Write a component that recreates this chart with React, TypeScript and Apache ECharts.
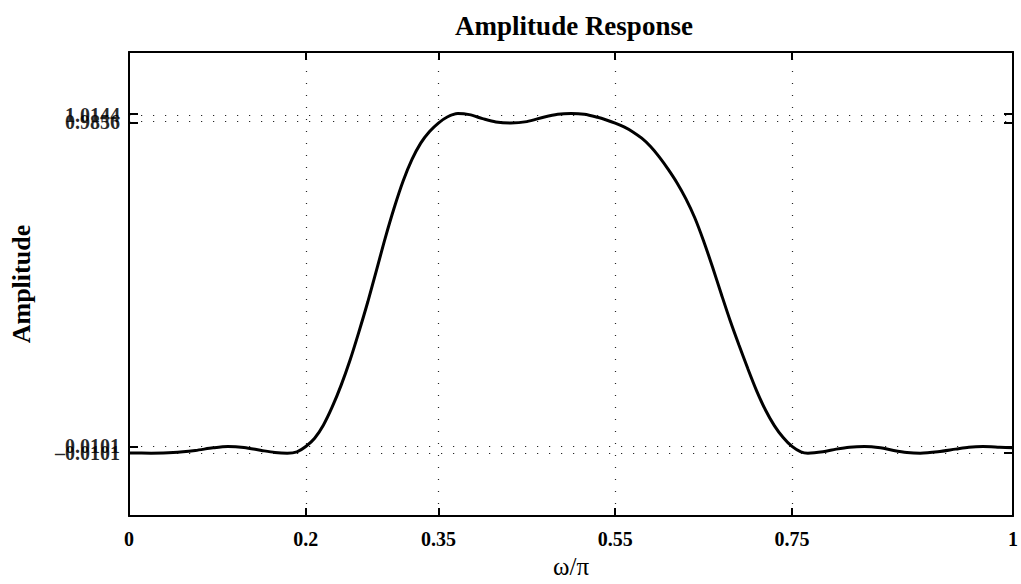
import React, { useEffect, useRef } from "react";
import * as echarts from "echarts";

// Frequency (ω/π) and amplitude
const omega = [
  0.0, 0.025, 0.05, 0.075, 0.095, 0.112, 0.13, 0.15, 0.165, 0.179, 0.19, 0.2,
  0.21, 0.22, 0.23, 0.24, 0.25, 0.26, 0.27, 0.28, 0.29, 0.3, 0.31, 0.32, 0.33,
  0.34, 0.35, 0.36, 0.372, 0.385, 0.4, 0.415, 0.432, 0.45, 0.47, 0.485, 0.5,
  0.515, 0.53, 0.54, 0.55, 0.56, 0.57, 0.58, 0.59, 0.6, 0.61, 0.62, 0.63, 0.64,
  0.65, 0.66, 0.67, 0.68, 0.69, 0.7, 0.71, 0.72, 0.73, 0.74, 0.75, 0.76, 0.768,
  0.785, 0.8, 0.815, 0.832, 0.85, 0.865, 0.88, 0.895, 0.915, 0.935, 0.95,
  0.966, 0.985, 1.0,
];
const amplitude = [
  -0.0095, -0.0101, -0.0085, -0.002, 0.006, 0.0101, 0.007, -0.002, -0.008,
  -0.0101, -0.006, 0.0101,
  0.035, 0.075, 0.13, 0.195, 0.27, 0.355, 0.445, 0.542, 0.64, 0.73, 0.81,
  0.875, 0.925, 0.96, 0.9856, 1.004, 1.0144, 1.011, 0.999, 0.989, 0.9856,
  0.99, 1.004, 1.012, 1.0144, 1.012, 1.003, 0.995, 0.9856, 0.974, 0.959,
  0.94, 0.915, 0.883, 0.846, 0.805, 0.757, 0.7, 0.63, 0.552, 0.47, 0.39,
  0.316, 0.245, 0.178, 0.12, 0.073, 0.037, 0.0101, -0.006, -0.0101, -0.006,
  0.002, 0.008, 0.0101, 0.006, -0.002, -0.008, -0.0101, -0.006, 0.002, 0.008,
  0.0101, 0.008, 0.006,
];

const xTicks = [0, 0.2, 0.35, 0.55, 0.75, 1];
const yTicks = [-0.0101, 0.0101, 0.9856, 1.0144];
const xGridLines = [0.2, 0.35, 0.55, 0.75];
const yGridLines = [-0.0101, 0.0101, 0.9856, 1.0144];
const xRange = [0, 1];
const yRange = [-0.2, 1.2];

const titleText = "Amplitude Response";
const xName = "ω/π";
const yName = "Amplitude";

const FONT = '"Liberation Serif", "Times New Roman", Times, serif';

function fmtY(v: number): string {
  const s = Math.abs(v).toFixed(4);
  return v < 0 ? "\u2013" + s : s;
}
function fmtX(v: number): string {
  return String(Number(v.toFixed(4)));
}

export default function App() {
  const ref = useRef<HTMLDivElement>(null);
  useEffect(() => {
    document.body.style.margin = "0";
    if (!ref.current) return;
    const chart = echarts.init(ref.current, undefined, { renderer: "svg" });
    const axisLine = { show: true, onZero: false, lineStyle: { color: "#000", width: 2 } };
    const tickStyle = { color: "#000", width: 2 };
    const dotted = { color: "#000", width: 1.2, type: [1.2, 10.8] as any, opacity: 0.85 };
    const labelFont = {
      fontSize: 20,
      fontWeight: "bold",
      fontFamily: FONT,
      color: "#000",
    };
    const option: any = {
      animation: false,
      backgroundColor: "#fff",
      title: {
        text: titleText,
        left: 574,
        top: 12,
        padding: 0,
        textAlign: "center",
        textStyle: { fontSize: 27, fontWeight: "bold", fontFamily: FONT, color: "#000" },
      },
      grid: { left: 128, right: 1, top: 52, bottom: 66, containLabel: false },
      xAxis: [
        {
          type: "value",
          min: xRange[0],
          max: xRange[1],
          position: "bottom",
          name: xName,
          nameLocation: "middle",
          nameGap: 37,
          nameTextStyle: { fontSize: 25, fontFamily: FONT, color: "#000", fontWeight: "normal" },
          axisLine,
          axisTick: { show: true, inside: true, length: 8, lineStyle: tickStyle, customValues: xTicks },
          axisLabel: {
            show: true,
            margin: 13,
            customValues: xTicks,
            formatter: (v: number) => fmtX(v),
            ...labelFont,
            showMinLabel: true,
            showMaxLabel: true,
          },
          splitLine: { show: false },
        },
        {
          type: "value",
          min: xRange[0],
          max: xRange[1],
          position: "top",
          axisLine,
          axisTick: { show: true, inside: true, length: 8, lineStyle: tickStyle, customValues: xTicks },
          axisLabel: { show: false },
          splitLine: { show: false },
        },
      ],
      yAxis: [
        {
          type: "value",
          min: yRange[0],
          max: yRange[1],
          position: "left",
          name: yName,
          nameLocation: "middle",
          nameGap: 95,
          nameRotate: 90,
          nameTextStyle: { fontSize: 26, fontFamily: FONT, color: "#000", fontWeight: "bold" },
          axisLine,
          axisTick: { show: true, inside: true, length: 9, lineStyle: tickStyle, customValues: yTicks },
          axisLabel: { show: false },
          splitLine: { show: false },
        },
        {
          type: "value",
          min: yRange[0],
          max: yRange[1],
          position: "right",
          axisLine,
          axisTick: { show: true, inside: true, length: 9, lineStyle: tickStyle, customValues: yTicks },
          axisLabel: { show: false },
          splitLine: { show: false },
        },
      ],
      series: [
        {
          type: "line",
          name: "grid",
          data: [],
          silent: true,
          z: 1,
          markLine: {
            silent: true,
            symbol: ["none", "none"],
            lineStyle: dotted,
            emphasis: { disabled: true },
            data: [
              ...xGridLines.map((v) => ({ xAxis: v, label: { show: false } })),
              ...yGridLines.map((v) => ({
                yAxis: v,
                label: {
                  show: true,
                  position: "start",
                  distance: 9,
                  formatter: fmtY(v),
                  ...labelFont,
                },
              })),
            ],
          },
        },
        {
          type: "line",
          name: "amplitude",
          z: 3,
          data: omega.map((w, i) => [w, amplitude[i]]),
          showSymbol: false,
          symbol: "none",
          smooth: 0.3,
          lineStyle: { color: "#000", width: 3 },
          silent: true,
        },
      ],
    };
    chart.setOption(option);
    return () => chart.dispose();
  }, []);
  return <div ref={ref} style={{ width: 1021, height: 584 }} />;
}
